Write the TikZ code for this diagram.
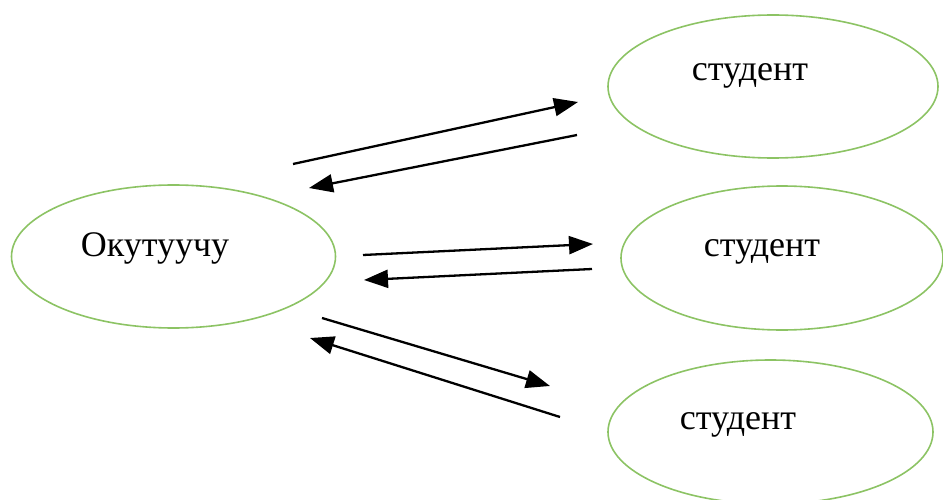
\documentclass[tikz,border=0pt]{standalone}
\usepackage{fontspec}
\setmainfont{Liberation Serif}
\usetikzlibrary{shapes.geometric,arrows.meta}
\definecolor{elgreen}{RGB}{140,195,100}
\tikzset{
  oval/.style={draw=elgreen,line width=1.6pt,ellipse,inner sep=0pt},
  lbl/.style={font=\fontsize{36}{40}\selectfont},
  arr/.style={line width=2.3pt,-{Triangle[length=24pt,width=18pt]}}
}
\begin{document}
\begin{tikzpicture}[x=1pt,y=-1pt]
\useasboundingbox (0,0) rectangle (943,500);
\node[oval,minimum width=324pt,minimum height=143pt] (t) at (173.5,256.5) {};
\node[oval,minimum width=330pt,minimum height=143pt] (s1) at (773,86.5) {};
\node[oval,minimum width=322pt,minimum height=144pt] (s2) at (782,258) {};
\node[oval,minimum width=325pt,minimum height=144pt] (s3) at (770.5,432) {};
\node[lbl] (tt) at (155,248) {Окутуучу};
\node[lbl] (t1) at (750,76) {студент};
\node[lbl] (t2) at (762,252) {студент};
\node[lbl] (t3) at (738,425) {студент};
\coordinate (a1) at (293,164); \coordinate (b1) at (578,102);
\coordinate (a2) at (577,135); \coordinate (b2) at (309,188);
\coordinate (a3) at (363,255); \coordinate (b3) at (593,244);
\coordinate (a4) at (592,269); \coordinate (b4) at (364,280);
\coordinate (a5) at (322,318); \coordinate (b5) at (550,386);
\coordinate (a6) at (560,417); \coordinate (b6) at (310,338);
\foreach \i in {1,...,6} {\draw[arr] (a\i) -- (b\i);}
\end{tikzpicture}
\end{document}
